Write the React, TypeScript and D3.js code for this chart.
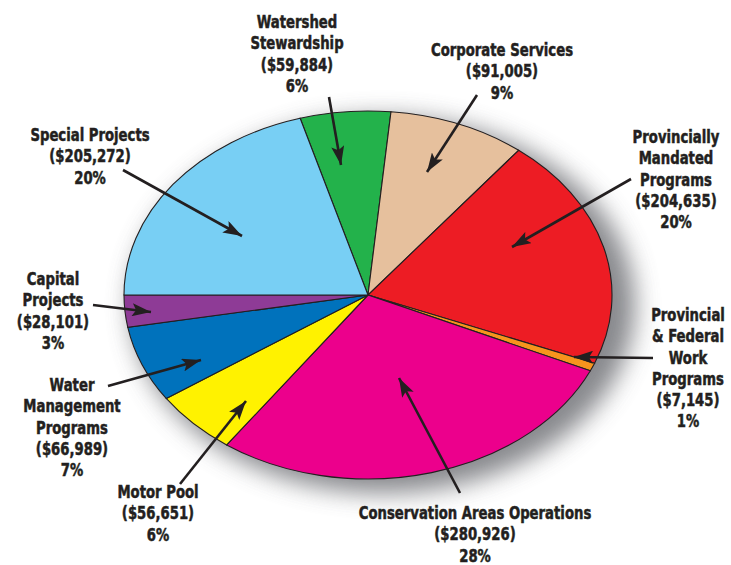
import { useMemo } from "react";
import * as d3 from "d3";

const WIDTH = 731;
const HEIGHT = 565;

// budget categories, clockwise from the top
const categories = [
  "Watershed Stewardship",
  "Corporate Services",
  "Provincially Mandated Programs",
  "Provincial & Federal Work Programs",
  "Conservation Areas Operations",
  "Motor Pool",
  "Water Management Programs",
  "Capital Projects",
  "Special Projects",
];
const amounts = [59884, 91005, 204635, 7145, 280926, 56651, 66989, 28101, 205272];
const percents = ["6%", "9%", "20%", "1%", "28%", "6%", "7%", "3%", "20%"];
const colors = ["#23b24b", "#e6c09d", "#ed1c24", "#f7941d", "#ec008c", "#fff200", "#0072bc", "#8e3b96", "#78cff4"];

// label text lines (name part), wrapped like the original
const nameLines = [
  ["Watershed", "Stewardship"],
  ["Corporate Services"],
  ["Provincially", "Mandated", "Programs"],
  ["Provincial", "& Federal", "Work", "Programs"],
  ["Conservation Areas Operations"],
  ["Motor Pool"],
  ["Water", "Management", "Programs"],
  ["Capital", "Projects"],
  ["Special Projects"],
];

// label anchor (center x, first baseline) and arrow start/tip
const labelPos = [
  { x: 297, y: 28, from: [329, 97], to: [341, 165] },
  { x: 502, y: 56, from: [477, 95], to: [427, 172] },
  { x: 676, y: 143, from: [631, 179], to: [512, 247] },
  { x: 688, y: 321, from: [653, 358], to: [574, 357] },
  { x: 475, y: 519, from: [460, 493], to: [399, 378] },
  { x: 158, y: 498, from: [180, 484], to: [246, 401] },
  { x: 72, y: 391, from: [108, 386], to: [201, 360] },
  { x: 53, y: 285, from: [93, 305], to: [151, 312] },
  { x: 90, y: 141, from: [123, 170], to: [242, 236] },
];

const cx = 368;
const cy = 295;
const rx = 244;
const ry = 184;
const LINE_H = 21.3;

const fmt = d3.format(",");

export default function App() {
  const slices = useMemo(() => {
    const total = d3.sum(amounts);
    // Capital / Special boundary sits on the horizontal, pointing left
    const before = d3.sum(amounts.slice(0, 8));
    const start = (3 * Math.PI) / 2 - (before / total) * 2 * Math.PI;
    return d3
      .pie<number>()
      .sort(null)
      .startAngle(start)
      .endAngle(start + 2 * Math.PI)(amounts);
  }, []);

  const arc = d3.arc<d3.PieArcDatum<number>>().innerRadius(0).outerRadius(rx);

  return (
    <svg
      width={WIDTH}
      height={HEIGHT}
      style={{ position: "absolute", left: 0, top: 0, background: "#fff" }}
      fontFamily="'Liberation Sans Narrow', 'DejaVu Sans Condensed', 'Arial Narrow', sans-serif"
    >
      <defs>
        <filter id="shadow" x="-30%" y="-30%" width="160%" height="160%">
          <feGaussianBlur stdDeviation="12" />
        </filter>
        <marker id="head" viewBox="0 0 19 13" refX="19" refY="6.5" markerWidth="19" markerHeight="13" markerUnits="userSpaceOnUse" orient="auto">
          <path d="M0,0 L19,6.5 L0,13 L4,6.5 Z" fill="#231f20" />
        </marker>
      </defs>

      <ellipse cx={cx + 15} cy={cy + 10} rx={rx + 8} ry={ry + 4} fill="#6a6c71" opacity={0.8} filter="url(#shadow)" />

      <g transform={`translate(${cx},${cy}) scale(1,${ry / rx})`}>
        {slices.map((s, i) => (
          <path
            key={categories[i]}
            d={arc(s) ?? ""}
            fill={colors[i]}
            stroke="#231f20"
            strokeWidth={1.1}
            vectorEffect="non-scaling-stroke"
          />
        ))}
      </g>

      {labelPos.map((p, i) => {
        const lines = [...nameLines[i], `($${fmt(amounts[i])})`, percents[i]];
        return (
          <g key={categories[i]}>
            <line
              x1={p.from[0]}
              y1={p.from[1]}
              x2={p.to[0]}
              y2={p.to[1]}
              stroke="#231f20"
              strokeWidth={2.6}
              markerEnd="url(#head)"
            />
            <text
              transform={`translate(${p.x},0) scale(0.84,1)`}
              textAnchor="middle"
              fontSize={17.5}
              fontWeight="bold"
              fill="#231f20"
              stroke="#231f20"
              strokeWidth={0.5}
            >
              {lines.map((t, j) => (
                <tspan key={j} x={0} y={p.y + j * LINE_H}>
                  {t}
                </tspan>
              ))}
            </text>
          </g>
        );
      })}
    </svg>
  );
}
